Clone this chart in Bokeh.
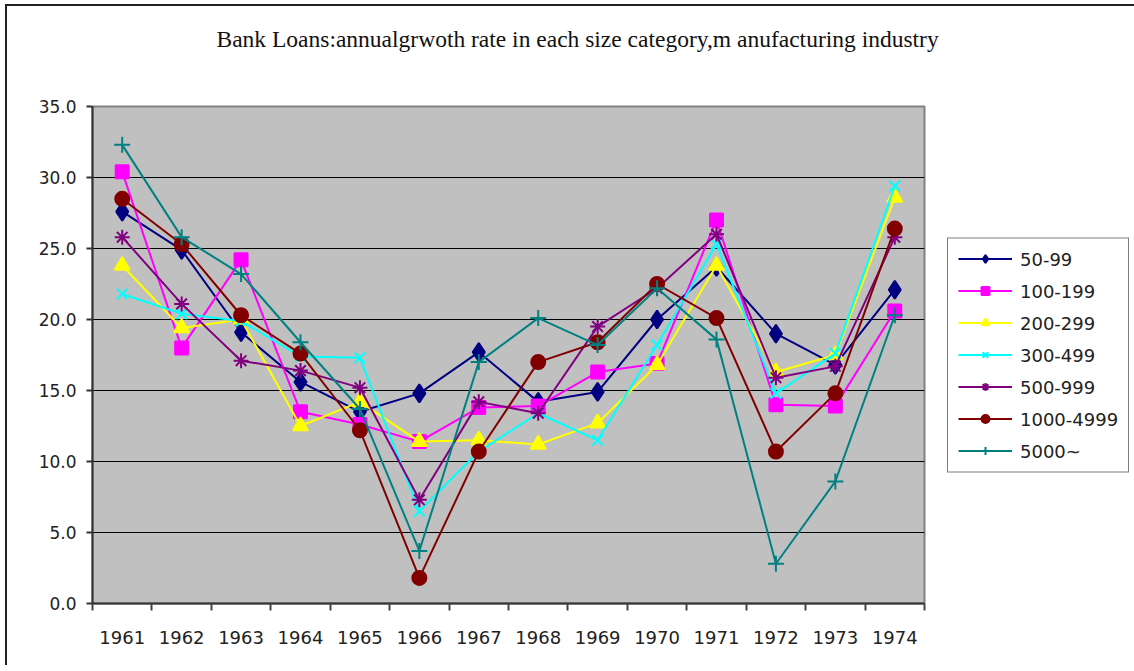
from bokeh.plotting import figure
from bokeh.models import (Legend, LegendItem, FixedTicker, PrintfTickFormatter,
                          Range1d, ColumnDataSource, Title)
from bokeh.embed import file_html
from bokeh.resources import INLINE

years = [1961, 1962, 1963, 1964, 1965, 1966, 1967, 1968, 1969, 1970, 1971, 1972, 1973, 1974]
year_labels = [str(y) for y in years]

s_50_99 = [27.6, 24.9, 19.1, 15.6, 13.5, 14.8, 17.7, 14.2, 14.9, 20.0, 23.7, 19.0, 16.8, 22.1]
s_100_199 = [30.4, 18.0, 24.2, 13.5, 12.6, 11.4, 13.8, 13.9, 16.3, 16.9, 27.0, 14.0, 13.9, 20.6]
s_200_299 = [23.8, 19.4, 20.0, 12.5, 14.2, 11.4, 11.5, 11.2, 12.7, 16.8, 23.8, 16.3, 17.5, 28.6]
s_300_499 = [21.8, 20.4, 19.9, 17.4, 17.3, 6.5, 10.7, 13.4, 11.5, 18.2, 25.3, 14.8, 17.6, 29.4]
s_500_999 = [25.8, 21.1, 17.1, 16.4, 15.2, 7.3, 14.2, 13.4, 19.5, 22.2, 26.0, 15.9, 16.7, 25.8]
s_1000_4999 = [28.5, 25.3, 20.3, 17.6, 12.2, 1.8, 10.7, 17.0, 18.4, 22.5, 20.1, 10.7, 14.8, 26.4]
s_5000 = [32.3, 25.8, 23.2, 18.4, 13.7, 3.7, 17.0, 20.1, 18.2, 22.2, 18.6, 2.8, 8.6, 20.3]

series_names = ["50-99", "100-199", "200-299", "300-499", "500-999", "1000-4999", "5000~"]
series_values = [s_50_99, s_100_199, s_200_299, s_300_499, s_500_999, s_1000_4999, s_5000]
colors = ["#000080", "#FF00FF", "#FFFF00", "#00FFFF", "#800080", "#800000", "#008080"]
markers = ["diamond", "square", "triangle", "x", "asterisk", "circle", "cross"]
msizes = [18, 13, 15, 15, 15, 14, 16]

title_text = "Bank Loans:annualgrwoth rate in each size category,m anufacturing industry"

FONT = "DejaVu Sans"

p = figure(frame_width=832, frame_height=497, title=None,
           x_range=Range1d(1960.5, 1974.5), y_range=Range1d(0, 35),
           output_backend="svg", toolbar_location=None,
           min_border_left=85, min_border_right=205, min_border_top=99, min_border_bottom=62,
           background_fill_color="#C0C0C0", border_fill_color="white")
p.styles = {"border-left": "2px solid #222222", "border-top": "2px solid #222222",
            "margin-left": "5px", "margin-top": "4px"}

spacer = Title(text=" ", text_font_size="1px", standoff=31)
main_title = Title(text=title_text, align="left", offset=124, vertical_align="top",
                   standoff=38, text_font="Liberation Serif", text_font_size="23.5px",
                   text_font_style="normal", text_color="#111111")
p.add_layout(spacer, "above")
p.add_layout(main_title, "above")

p.outline_line_color = "#808080"
p.outline_line_width = 2

# grid
p.xgrid.visible = False
p.ygrid.ticker = FixedTicker(ticks=[0, 5, 10, 15, 20, 25, 30, 35])
p.ygrid.grid_line_color = "black"
p.ygrid.grid_line_width = 1

# y axis
p.yaxis.ticker = FixedTicker(ticks=[0, 5, 10, 15, 20, 25, 30, 35])
p.yaxis.formatter = PrintfTickFormatter(format="%.1f")
p.yaxis.axis_line_color = "#333333"
p.yaxis.axis_line_width = 2
p.yaxis.major_tick_line_color = "#333333"
p.yaxis.major_tick_line_width = 2
p.yaxis.major_tick_out = 6
p.yaxis.major_tick_in = 0
p.yaxis.minor_tick_line_color = None
p.yaxis.major_label_standoff = 10
p.yaxis.major_label_text_font = FONT
p.yaxis.major_label_text_font_size = "17px"
p.yaxis.major_label_text_color = "#222222"

# x axis: labels at centers, tick marks at category boundaries
p.xaxis.ticker = FixedTicker(ticks=years, minor_ticks=[y - 0.5 for y in years] + [years[-1] + 0.5])
p.xaxis.major_label_overrides = {y: lab for y, lab in zip(years, year_labels)}
p.xaxis.axis_line_color = "#333333"
p.xaxis.axis_line_width = 2
p.xaxis.major_tick_line_color = None
p.xaxis.major_tick_out = 0
p.xaxis.major_tick_in = 0
p.xaxis.minor_tick_line_color = "#444444"
p.xaxis.minor_tick_line_width = 2
p.xaxis.minor_tick_out = 7
p.xaxis.minor_tick_in = 0
p.xaxis.major_label_standoff = 20
p.xaxis.major_label_text_font = FONT
p.xaxis.major_label_text_font_size = "18px"
p.xaxis.major_label_text_color = "#222222"

items = []
for name, vals, col, mk, ms in zip(series_names, series_values, colors, markers, msizes):
    src = ColumnDataSource(dict(x=years, y=vals))
    ln = p.line("x", "y", source=src, line_color=col, line_width=2)
    sc = p.scatter("x", "y", source=src, marker=mk, size=ms,
                   fill_color=col, line_color=col, line_width=2)
    items.append(LegendItem(label=name, renderers=[ln, sc]))

legend = Legend(items=items, location="center_left")
legend.margin = 23
legend.padding = 10
legend.spacing = 11
legend.glyph_width = 54
legend.glyph_height = 20
legend.label_height = 20
legend.label_standoff = 8
legend.label_text_font = FONT
legend.label_text_font_size = "18px"
legend.label_text_color = "#222222"
legend.border_line_color = "black"
legend.border_line_width = 1
legend.background_fill_color = "white"
p.add_layout(legend, "right")

open("out.html", "w").write(file_html(p, INLINE))
